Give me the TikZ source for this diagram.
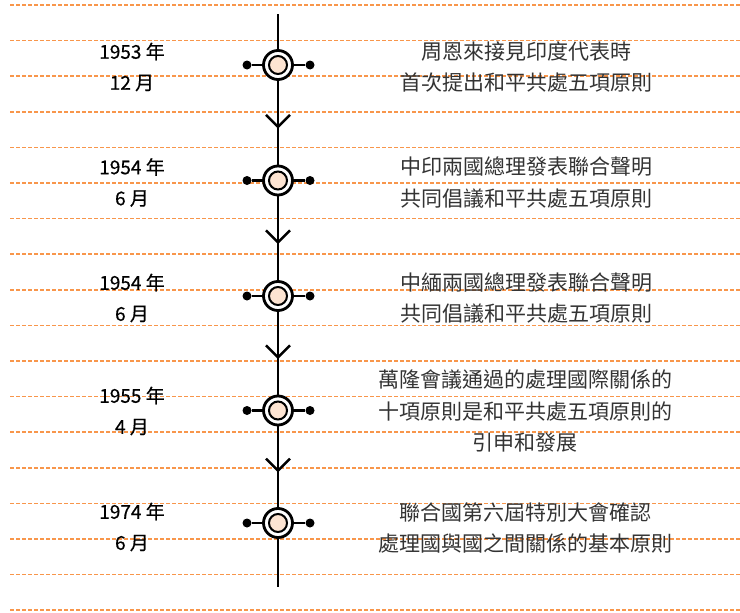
\documentclass[tikz,border=0pt]{standalone}
\usepackage{fontspec}
\newfontfamily\cjk{Noto Sans CJK TC}
\newfontfamily\cjkdate[FakeBold=0.5]{Noto Sans CJK TC}
\usetikzlibrary{arrows.meta,decorations.markings}
\definecolor{dashorange}{RGB}{248,150,75}
\definecolor{peach}{RGB}{253,228,210}
\definecolor{txtgray}{RGB}{51,51,51}
\begin{document}
\begin{tikzpicture}[x=1pt,y=-1pt,
  guide/.style={dashorange, line width=1.5pt, dash pattern=on 4pt off 2pt},
  spine/.style={line width=2.5pt, black},
  outer/.style={circle, draw, line width=2.8pt, fill=white, minimum size=29pt, inner sep=0pt},
  inner/.style={circle, draw, line width=2pt, fill=peach, minimum size=18pt, inner sep=0pt},
  dot/.style={circle, fill=black, minimum size=9pt, inner sep=0pt},
  datetxt/.style={font=\cjkdate\fontsize{19}{31}\selectfont, align=center, text=black},
  eventtxt/.style={font=\cjk\fontsize{21}{31.5}\selectfont, align=center, text=txtgray},
  flow/.style={spine, postaction={decorate}, decoration={markings,
     mark=at position 0.57 with {\arrow{Straight Barb[length=12pt,width=24pt]}}}}
]
\useasboundingbox (0,0) rectangle (740,613);
% guide lines
\foreach \i in {0,...,17}
  \draw[guide] (10,{5+35.6*\i}) -- (740,{5+35.6*\i});

% timeline nodes
\coordinate (top) at (278,14);
\coordinate (bot) at (278,587);
\node[outer] (e1) at (278,65) {};
\node[outer] (e2) at (278,180.5) {};
\node[outer] (e3) at (278,296) {};
\node[outer] (e4) at (278,410.5) {};
\node[outer] (e5) at (278,523) {};

\draw[spine] (top) -- (e1);
\draw[flow] (e1) -- (e2);
\draw[flow] (e2) -- (e3);
\draw[flow] (e3) -- (e4);
\draw[flow] (e4) -- (e5);
\draw[spine] (e5) -- (bot);

\foreach \n in {e1,e2,e3,e4,e5}{
  \node[inner] (\n i) at (\n) {};
  \node[dot] (\n l) at ([xshift=-31pt]\n.center) {};
  \node[dot] (\n r) at ([xshift=32pt]\n.center) {};
  \draw[spine] (\n l) -- (\n);
  \draw[spine] (\n r) -- (\n);
}

% dates
\node[datetxt] (d1) at (132,67) {1953 年\\12 月};
\node[datetxt] (d2) at (132,182.5) {1954 年\\6 月};
\node[datetxt] (d3) at (132,298) {1954 年\\6 月};
\node[datetxt] (d4) at (132,411) {1955 年\\4 月};
\node[datetxt] (d5) at (132,527) {1974 年\\6 月};

% events
\node[eventtxt] (t1) at (526,67) {周恩來接見印度代表時\\首次提出和平共處五項原則};
\node[eventtxt] (t2) at (526,182.5) {中印兩國總理發表聯合聲明\\共同倡議和平共處五項原則};
\node[eventtxt] (t3) at (526,298) {中緬兩國總理發表聯合聲明\\共同倡議和平共處五項原則};
\node[eventtxt] (t4) at (525,411) {萬隆會議通過的處理國際關係的\\十項原則是和平共處五項原則的\\引申和發展};
\node[eventtxt] (t5) at (525,528) {聯合國第六屆特別大會確認\\處理國與國之間關係的基本原則};
\end{tikzpicture}
\end{document}
